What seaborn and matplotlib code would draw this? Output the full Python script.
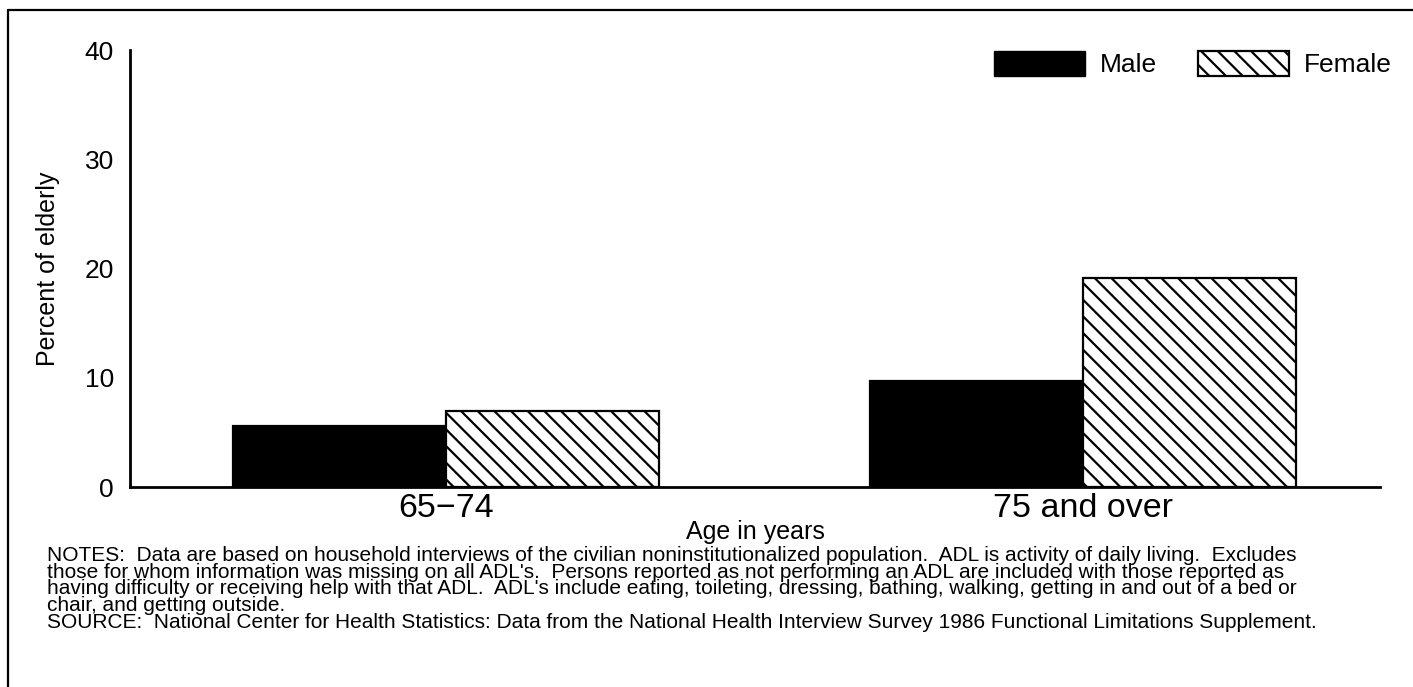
import pandas as pd
import matplotlib
matplotlib.use("Agg")
import matplotlib.pyplot as plt
import seaborn as sns
from matplotlib.patches import Patch
from matplotlib.lines import Line2D

# data
age_groups = ["65\u221274", "75 and over"]
sexes = ["Male", "Female"]
male_pct = [5.6, 9.7]
female_pct = [7.0, 19.1]

notes = ("NOTES:  Data are based on household interviews of the civilian noninstitutionalized population.  "
         "ADL is activity of daily living.  Excludes\n"
         "those for whom information was missing on all ADL's.  Persons reported as not performing an ADL "
         "are included with those reported as\n"
         "having difficulty or receiving help with that ADL.  ADL's include eating, toileting, dressing, "
         "bathing, walking, getting in and out of a bed or\n"
         "chair, and getting outside.\n"
         "SOURCE:  National Center for Health Statistics: Data from the National Health Interview Survey "
         "1986 Functional Limitations Supplement.")

df = pd.DataFrame({
    "age": age_groups * 2,
    "sex": [sexes[0]] * 2 + [sexes[1]] * 2,
    "pct": male_pct + female_pct,
})

sns.set_style("white")
plt.rcParams["font.family"] = ["Liberation Sans", "DejaVu Sans"]
plt.rcParams["hatch.linewidth"] = 1.6

fig = plt.figure(figsize=(14.13, 6.87), dpi=100)
ax = fig.add_axes([0.092, 0.2911, 0.8846, 0.6361])

sns.barplot(data=df, x="age", y="pct", hue="sex", order=age_groups, hue_order=sexes,
            palette=["black", "white"], width=0.669, gap=0, ax=ax, legend=False,
            edgecolor="black", linewidth=1.6, saturation=1)

# hatch the female bars
for bar in ax.containers[1]:
    bar.set_hatch("\\\\")
    bar.set_edgecolor("black")

ax.set_xlim(-0.496, 1.466)
ax.set_ylim(0, 40)
ax.set_yticks([0, 10, 20, 30, 40])
sns.despine(ax=ax)
for s in ["left", "bottom"]:
    ax.spines[s].set_linewidth(2.0)
    ax.spines[s].set_color("black")

ax.tick_params(axis="y", direction="in", length=16.5, width=1.6, pad=11.5, labelsize=19, colors="black")
ax.tick_params(axis="x", length=0, pad=4.5, labelsize=24.5, colors="black")
ax.set_xlabel("Age in years", fontsize=18, labelpad=-3, color="black")
ax.set_ylabel("Percent of elderly", fontsize=18, labelpad=18, color="black")

handles = [Patch(facecolor="black", edgecolor="black", label="Male"),
           Patch(facecolor="white", edgecolor="black", linewidth=1.6, hatch="\\\\", label="Female")]
fig.legend(handles=handles, loc="center right", bbox_to_anchor=(1392 / 1413, 1 - 64 / 687), ncol=2,
           frameon=False, fontsize=19, handlelength=3.45, handleheight=1.1, handletextpad=0.57,
           columnspacing=1.55, borderpad=0, borderaxespad=0, labelcolor="black")

fig.text(47 / 1413, 1 - 546 / 687, notes, fontsize=15, va="top", ha="left", linespacing=0.85,
         color="black")

# outer frame (left and top edges)
fig.add_artist(Line2D([8 / 1413, 8 / 1413], [0, 1 - 10 / 687], transform=fig.transFigure,
                      color="black", linewidth=1.6))
fig.add_artist(Line2D([8 / 1413, 1], [1 - 10 / 687, 1 - 10 / 687], transform=fig.transFigure,
                      color="black", linewidth=1.6))

fig.savefig("out.png", dpi=100, facecolor="white")
